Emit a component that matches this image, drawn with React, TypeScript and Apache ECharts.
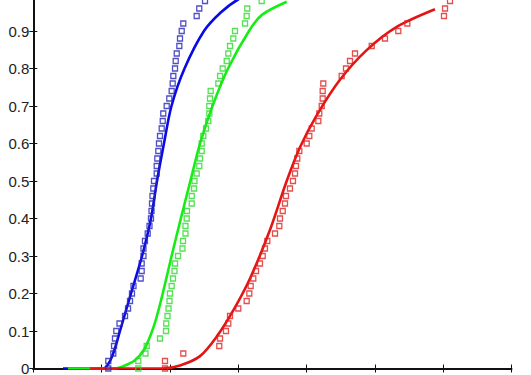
import React, { useEffect, useRef } from "react";
import * as echarts from "echarts";

// Empirical CDF levels (y) shared by the three samples
const cdfLevels = [
  0, 0.02, 0.04, 0.06, 0.08, 0.1, 0.12, 0.14, 0.16, 0.18, 0.2, 0.22, 0.24, 0.26, 0.28, 0.3, 0.32, 0.34,
  0.36, 0.38, 0.4, 0.42, 0.44, 0.46, 0.48, 0.5, 0.52, 0.54, 0.56, 0.58, 0.6, 0.62, 0.64, 0.66, 0.68,
  0.7, 0.72, 0.74, 0.76, 0.78, 0.8, 0.82, 0.84, 0.86, 0.88, 0.9, 0.92, 0.94, 0.96, 0.98, 1,
];

// Sample x-values (one per CDF level)
const blueSample = [
  1.098, 1.098, 1.171, 1.182, 1.196, 1.215, 1.262, 1.343, 1.387, 1.416, 1.445, 1.467, 1.572, 1.587,
  1.587, 1.613, 1.613, 1.635, 1.675, 1.701, 1.723, 1.731, 1.738, 1.745, 1.757, 1.767, 1.807, 1.807,
  1.816, 1.83, 1.84, 1.855, 1.88, 1.895, 1.903, 1.953, 1.991, 2.026, 2.041, 2.05, 2.075, 2.085, 2.1,
  2.138, 2.148, 2.173, 2.196, 2.392, 2.43, 2.514, 2.65,
];
const greenSample = [
  1.537, 1.537, 1.643, 1.66, 1.855, 1.943, 1.947, 1.965, 1.98, 1.994, 2.001, 2.026, 2.045, 2.067,
  2.075, 2.119, 2.184, 2.192, 2.228, 2.228, 2.246, 2.25, 2.319, 2.319, 2.353, 2.36, 2.392, 2.43, 2.441,
  2.466, 2.466, 2.489, 2.529, 2.562, 2.577, 2.577, 2.587, 2.597, 2.709, 2.734, 2.773, 2.832, 2.855,
  2.88, 2.928, 2.953, 3.1, 3.124, 3.133, 3.344, 3.45,
];
const redSample = [
  1.928, 1.928, 2.196, 2.723, 2.734, 2.821, 2.855, 2.88, 3.001, 3.124, 3.163, 3.183, 3.221, 3.261,
  3.319, 3.359, 3.392, 3.426, 3.539, 3.602, 3.612, 3.652, 3.685, 3.7, 3.758, 3.802, 3.832, 3.846,
  3.865, 3.895, 4.003, 4.041, 4.076, 4.173, 4.187, 4.223, 4.237, 4.237, 4.246, 4.515, 4.578, 4.637,
  4.71, 4.955, 5.149, 5.344, 5.476, 6.013, 6.028, 6.101, 6.2,
];

// Fitted CDF curves
const blueFitX = [0.435, 0.977, 1.05, 1.123, 1.189, 1.269, 1.43, 1.592, 1.723, 1.811, 1.913, 2.023, 2.214, 2.499, 2.748, 2.997, 3.15];
const blueFitY = [0, 0, 0.002, 0.02, 0.05, 0.1, 0.2, 0.3, 0.4, 0.5, 0.6, 0.7, 0.8, 0.9, 0.95, 0.984, 0.992];
const greenFitX = [0.508, 1.2, 1.3, 1.474, 1.621, 1.74, 1.81, 1.895, 2.025, 2.16, 2.3, 2.441, 2.624, 2.851, 3.158, 3.348, 3.71];
const greenFitY = [0, 0, 0.005, 0.02, 0.05, 0.1, 0.14, 0.2, 0.3, 0.4, 0.5, 0.6, 0.7, 0.8, 0.9, 0.943, 0.978];
const redFitX = [0.832, 1.899, 2.148, 2.441, 2.685, 2.928, 3.173, 3.466, 3.71, 3.905, 4.149, 4.49, 4.881, 5.321, 5.881];
const redFitY = [0, 0, 0.008, 0.033, 0.085, 0.155, 0.24, 0.37, 0.5, 0.59, 0.675, 0.77, 0.849, 0.911, 0.958];

const yTickLabels = ["0", "0.1", "0.2", "0.3", "0.4", "0.5", "0.6", "0.7", "0.8", "0.9", ""];

const BLUE = "#0a0ae6";
const GREEN = "#14ee14";
const RED = "#e41414";
const BLUE_MARK = "#2424b8";
const GREEN_MARK = "#2ad82a";
const RED_MARK = "#e02020";

const pairs = (xs: number[], ys: number[]) => xs.map((x, i) => [x, ys[i]]);

export default function App() {
  const ref = useRef<HTMLDivElement>(null);
  useEffect(() => {
    if (!ref.current) return;
    const chart = echarts.init(ref.current, null, { renderer: "svg" });
    const tickStyle = { show: true, inside: true, length: 4, lineStyle: { color: "#111", width: 1 } };
    const lineStyle = { show: true, lineStyle: { color: "#111", width: 2 } };
    const fitSeries = (name: string, xs: number[], ys: number[], color: string) => ({
      name,
      type: "line",
      data: pairs(xs, ys),
      smooth: 0.3,
      showSymbol: false,
      symbol: "none",
      lineStyle: { color, width: 2.6 },
      z: 2,
    });
    const sampleSeries = (name: string, xs: number[], color: string) => ({
      name,
      type: "scatter",
      data: xs.map((x, i) => [x, cdfLevels[i]]),
      symbol: "rect",
      symbolSize: 5,
      itemStyle: { color: "rgba(255,255,255,0)", borderColor: color, borderWidth: 1.3 },
      z: 3,
    });
    chart.setOption({
      animation: false,
      backgroundColor: "#ffffff",
      grid: { left: 33.3, right: 19.6, top: -6.5, bottom: 6.5, outerBoundsMode: "none", containLabel: false },
      xAxis: [
        {
          type: "value", position: "bottom", min: 0, max: 7, interval: 1,
          axisLine: lineStyle, axisTick: tickStyle, axisLabel: { show: false }, splitLine: { show: false },
        },
        {
          type: "value", position: "top", min: 0, max: 7, interval: 1,
          axisLine: lineStyle, axisTick: tickStyle, axisLabel: { show: false }, splitLine: { show: false },
        },
      ],
      yAxis: [
        {
          type: "value", position: "left", min: 0, max: 1, interval: 0.1,
          axisLine: lineStyle, axisTick: tickStyle, splitLine: { show: false },
          axisLabel: {
            margin: 4,
            fontSize: 15,
            fontFamily: "Liberation Sans, Arial, sans-serif",
            color: "#222",
            formatter: (v: number) => yTickLabels[Math.round(v * 10)] ?? "",
          },
        },
        {
          type: "value", position: "right", min: 0, max: 1, interval: 0.1,
          axisLine: lineStyle, axisTick: tickStyle, axisLabel: { show: false }, splitLine: { show: false },
        },
      ],
      series: [
        fitSeries("blue fit", blueFitX, blueFitY, BLUE),
        fitSeries("green fit", greenFitX, greenFitY, GREEN),
        fitSeries("red fit", redFitX, redFitY, RED),
        sampleSeries("blue data", blueSample, BLUE_MARK),
        sampleSeries("green data", greenSample, GREEN_MARK),
        sampleSeries("red data", redSample, RED_MARK),
      ],
    });
    return () => chart.dispose();
  }, []);
  return (
    <div
      ref={ref}
      style={{ position: "fixed", left: 0, top: 0, width: 531, height: 375, background: "#fff" }}
    />
  );
}
